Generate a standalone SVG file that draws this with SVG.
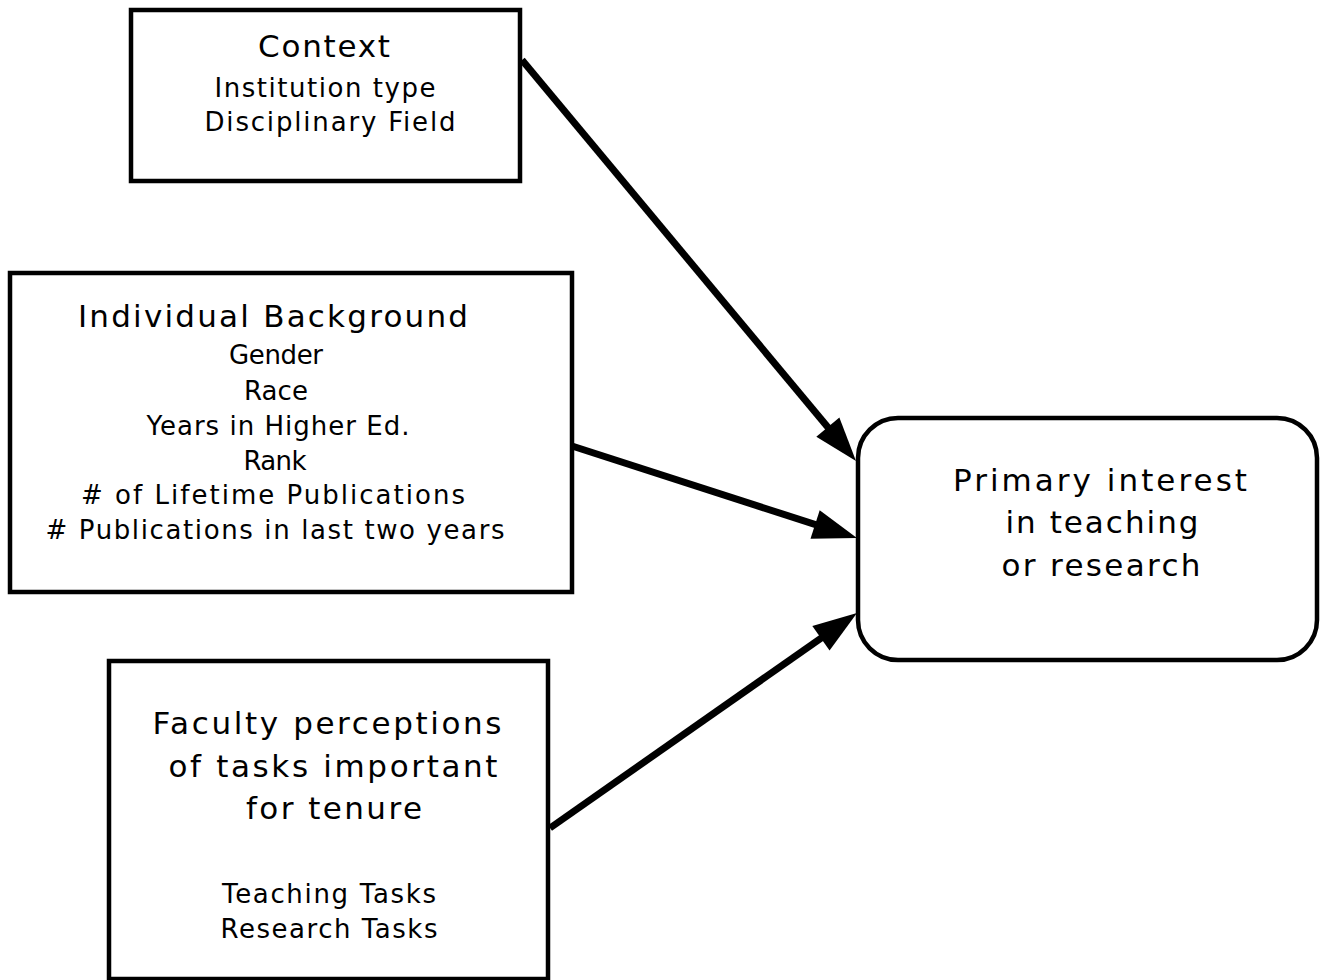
<svg xmlns="http://www.w3.org/2000/svg" width="1328" height="980" viewBox="0 0 1328 980">
<style>
.box{fill:#fff;stroke:#000;stroke-width:4.5}
.t{font-family:"DejaVu Sans","Liberation Sans",sans-serif;fill:#000;text-anchor:middle}
.h{font-size:31px}
.s{font-size:26px}
.conn{stroke:#000;stroke-width:7;fill:none;marker-end:url(#ah)}
</style>
<defs>
<marker id="ah" markerUnits="userSpaceOnUse" viewBox="-46 -17 48 34" refX="-15" refY="0" markerWidth="48" markerHeight="34" orient="auto">
<path d="M0,0 L-44,-15 L-44,15 Z" fill="#000"/>
</marker>
</defs>
<rect width="1328" height="980" fill="#fff"/>
<g id="connectors">
<line class="conn" x1="522" y1="60" x2="846.4" y2="449.5"/>
<line class="conn" x1="572" y1="446" x2="842.7" y2="533.4"/>
<line class="conn" x1="550" y1="828" x2="844.7" y2="621.6"/>
</g>
<g id="context">
<rect class="box" x="131" y="10" width="389" height="171"/>
<text class="t h" x="324" y="57" textLength="132">Context</text>
<text class="t s" x="325" y="97" textLength="221">Institution type</text>
<text class="t s" x="330" y="131" textLength="251">Disciplinary Field</text>
</g>
<g id="individual">
<rect class="box" x="10" y="273" width="562" height="319"/>
<text class="t h" x="273" y="327" textLength="390">Individual Background</text>
<text class="t s" x="276" y="364" textLength="94">Gender</text>
<text class="t s" x="276" y="400" textLength="64">Race</text>
<text class="t s" x="278" y="435" textLength="263">Years in Higher Ed.</text>
<text class="t s" x="275" y="470" textLength="63">Rank</text>
<text class="t s" x="273" y="504" textLength="384"># of Lifetime Publications</text>
<text class="t s" x="275" y="539" textLength="459"># Publications in last two years</text>
</g>
<g id="faculty">
<rect class="box" x="109" y="661" width="439" height="318"/>
<text class="t h" x="327" y="734" textLength="349">Faculty perceptions</text>
<text class="t h" x="333" y="777" textLength="329">of tasks important</text>
<text class="t h" x="334" y="819" textLength="176">for tenure</text>
<text class="t s" x="329" y="903" textLength="214">Teaching Tasks</text>
<text class="t s" x="329" y="938" textLength="217">Research Tasks</text>
</g>
<g id="primary">
<rect class="box" x="858" y="418" width="459" height="242" rx="40" ry="40"/>
<text class="t h" x="1100" y="491" textLength="294">Primary interest</text>
<text class="t h" x="1102" y="533" textLength="193">in teaching</text>
<text class="t h" x="1101" y="576" textLength="199">or research</text>
</g>
</svg>
